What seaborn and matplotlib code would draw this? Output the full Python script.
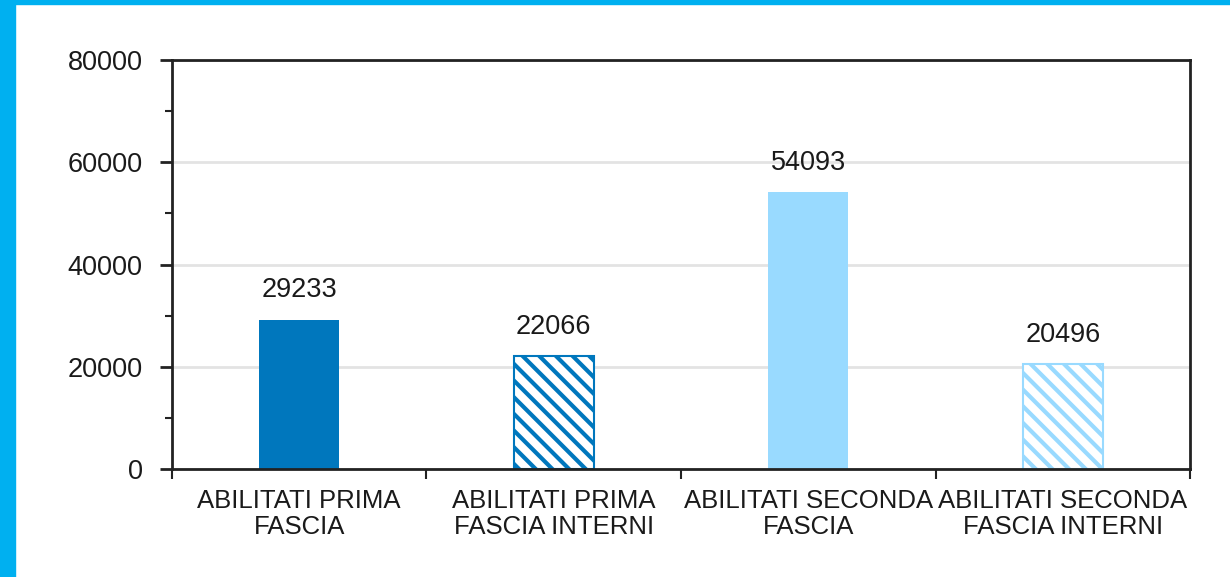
import matplotlib
matplotlib.use("Agg")
import matplotlib.pyplot as plt
from matplotlib.patches import Rectangle
from matplotlib.ticker import MultipleLocator, FixedLocator
import seaborn as sns

categories = ["ABILITATI PRIMA\nFASCIA", "ABILITATI PRIMA\nFASCIA INTERNI",
              "ABILITATI SECONDA\nFASCIA", "ABILITATI SECONDA\nFASCIA INTERNI"]
values = [29233, 22066, 54093, 20496]
colors = ["#0077BD", "#0077BD", "#99DAFF", "#99DAFF"]
hatches = ["", "\\\\", "", "\\\\"]

sns.set_theme(style="white")
plt.rcParams['font.family'] = ['Liberation Sans', 'DejaVu Sans']
plt.rcParams['hatch.linewidth'] = 3.0

fig = plt.figure(figsize=(12.3, 5.77), dpi=100)
ax = fig.add_axes([0.1398, 0.187, 0.9675 - 0.1398, 0.896 - 0.187])

sns.barplot(x=categories, y=values, hue=categories, palette=colors,
            width=0.315, legend=False, ax=ax, saturation=1)

for bar, col, h in zip(ax.patches, colors, hatches):
    if h:
        bar.set_facecolor("white")
        bar.set_edgecolor(col)
        bar.set_hatch(h)
        bar.set_linewidth(1.5)
    else:
        bar.set_edgecolor(col)
        bar.set_linewidth(0)

for i, v in enumerate(values):
    ax.annotate(f"{v}", (i, v), xytext=(0, 12), textcoords="offset points",
                ha="center", va="bottom", fontsize=19.5, color="#1a1a1a")

ax.set_ylim(0, 80000)
ax.set_xlim(-0.5, 3.5)
ax.yaxis.set_major_locator(MultipleLocator(20000))
ax.yaxis.set_minor_locator(MultipleLocator(10000))
ax.yaxis.grid(True, color="#e3e3e3", linewidth=2)
ax.set_axisbelow(True)

ax.xaxis.set_minor_locator(FixedLocator([-0.5, 0.5, 1.5, 2.5, 3.5]))
ax.tick_params(axis="x", which="major", length=0, pad=14, labelsize=18.5,
               labelcolor="#1a1a1a")
ax.tick_params(axis="x", which="minor", bottom=True, length=7, width=1.5,
               color="#222222", direction="out")
ax.tick_params(axis="y", which="major", left=True, length=9, width=2,
               color="#222222", pad=12, labelsize=19.5, labelcolor="#1a1a1a")
ax.tick_params(axis="y", which="minor", left=True, length=5, width=1.5,
               color="#222222")
for lbl in ax.get_xticklabels():
    lbl.set_linespacing(1.15)

for s in ax.spines.values():
    s.set_visible(True)
    s.set_color("#222222")
    s.set_linewidth(2)

# cyan frame strips of the page
fig.patches.append(Rectangle((0, 0), 15 / 1230, 1, transform=fig.transFigure,
                             color="#00B0F0", zorder=0))
fig.patches.append(Rectangle((0, 1 - 4 / 577), 1, 4 / 577,
                             transform=fig.transFigure, color="#00B0F0", zorder=0))

fig.savefig("out.png", dpi=100)
